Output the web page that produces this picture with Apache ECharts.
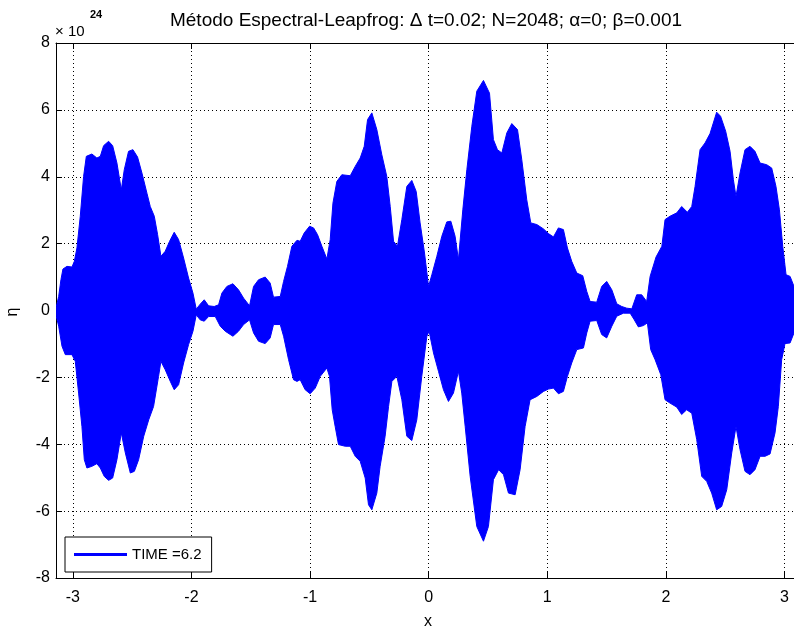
<!DOCTYPE html>
<html>
<head>
<meta charset="utf-8">
<script src="https://cdn.jsdelivr.net/npm/echarts@6/dist/echarts.min.js"></script>
<style>html,body{margin:0;padding:0;background:#fff}#c{width:794px;height:632px}</style>
</head>
<body>
<div id="c"></div>
<script>
// Envelope of eta (units of 1e24), upper edge
const upperX = [-3.139,-3.119,-3.100,-3.083,-3.049,-3.007,-2.987,-2.965,-2.937,-2.909,-2.886,-2.839,-2.797,-2.768,-2.740,-2.698,-2.664,-2.628,-2.591,-2.566,-2.530,-2.493,-2.454,-2.417,-2.375,-2.347,-2.313,-2.285,-2.257,-2.221,-2.184,-2.145,-2.108,-2.066,-2.024,-1.987,-1.959,-1.926,-1.892,-1.855,-1.808,-1.771,-1.743,-1.701,-1.650,-1.603,-1.560,-1.510,-1.476,-1.434,-1.378,-1.336,-1.308,-1.251,-1.223,-1.190,-1.153,-1.110,-1.083,-1.049,-1.004,-0.970,-0.937,-0.900,-0.858,-0.830,-0.807,-0.774,-0.732,-0.661,-0.619,-0.577,-0.543,-0.515,-0.479,-0.437,-0.395,-0.353,-0.324,-0.296,-0.263,-0.226,-0.184,-0.142,-0.105,-0.072,-0.035,-0.001,0.027,0.069,0.111,0.153,0.187,0.223,0.251,0.288,0.322,0.364,0.406,0.462,0.513,0.546,0.580,0.617,0.659,0.701,0.749,0.785,0.827,0.861,0.912,0.968,1.010,1.052,1.094,1.136,1.170,1.206,1.249,1.299,1.333,1.361,1.417,1.459,1.501,1.544,1.586,1.628,1.670,1.713,1.754,1.796,1.838,1.867,1.917,1.966,1.993,2.035,2.092,2.133,2.181,2.218,2.246,2.288,2.330,2.372,2.428,2.461,2.504,2.541,2.569,2.591,2.625,2.667,2.709,2.751,2.794,2.850,2.892,2.928,2.957,2.985,3.013,3.047,3.080];
const upperY = [0.12,0.42,0.92,1.24,1.32,1.30,1.47,1.87,2.82,4.01,4.61,4.68,4.56,4.61,4.93,5.06,4.93,4.41,3.61,4.21,4.76,4.81,4.59,4.11,3.51,3.11,2.82,2.27,1.62,1.77,2.07,2.34,2.12,1.57,0.97,0.52,0.04,0.19,0.32,0.14,0.12,0.17,0.52,0.72,0.80,0.62,0.37,0.14,0.72,0.92,1.00,0.82,0.40,0.42,0.87,1.32,1.92,2.10,2.07,2.32,2.52,2.47,2.27,1.92,1.54,2.12,3.21,3.86,4.06,4.03,4.31,4.56,4.91,5.71,5.91,5.41,4.66,4.01,3.11,2.07,1.92,2.72,3.71,3.89,3.56,2.62,1.72,0.72,1.07,1.62,2.22,2.65,2.67,2.22,1.52,3.01,4.21,5.51,6.56,6.88,6.50,5.11,4.81,4.71,5.31,5.59,5.41,4.51,3.31,2.62,2.57,2.44,2.30,2.20,2.47,2.42,1.87,1.47,1.12,1.04,0.57,0.27,0.25,0.72,0.87,0.62,0.20,0.12,0.07,0.05,0.47,0.47,0.27,1.02,1.60,1.92,2.72,2.82,2.92,3.11,2.94,3.11,3.71,4.81,5.01,5.29,5.93,5.81,5.36,4.76,3.91,3.41,4.11,4.81,4.91,4.76,4.41,4.36,4.26,3.71,3.01,1.92,1.07,1.02,0.72];
// lower edge
const lowerX = [-3.139,-3.119,-3.091,-3.063,-3.007,-2.979,-2.951,-2.923,-2.903,-2.881,-2.839,-2.797,-2.768,-2.735,-2.698,-2.664,-2.628,-2.591,-2.557,-2.515,-2.481,-2.445,-2.402,-2.360,-2.319,-2.277,-2.257,-2.221,-2.178,-2.145,-2.108,-2.066,-2.024,-1.987,-1.959,-1.926,-1.892,-1.855,-1.799,-1.757,-1.715,-1.650,-1.603,-1.560,-1.510,-1.476,-1.434,-1.378,-1.336,-1.308,-1.251,-1.223,-1.181,-1.139,-1.110,-1.083,-1.041,-0.999,-0.956,-0.914,-0.858,-0.836,-0.813,-0.788,-0.760,-0.703,-0.661,-0.619,-0.577,-0.535,-0.507,-0.479,-0.437,-0.409,-0.367,-0.338,-0.310,-0.268,-0.226,-0.184,-0.142,-0.100,-0.058,-0.015,0.004,0.041,0.083,0.125,0.167,0.209,0.251,0.279,0.308,0.350,0.406,0.462,0.504,0.546,0.590,0.631,0.673,0.729,0.771,0.813,0.855,0.912,0.968,1.010,1.052,1.094,1.136,1.170,1.206,1.249,1.305,1.333,1.361,1.417,1.459,1.501,1.544,1.586,1.642,1.699,1.732,1.768,1.811,1.844,1.872,1.909,1.957,1.993,2.035,2.092,2.133,2.175,2.218,2.260,2.302,2.344,2.386,2.428,2.470,2.513,2.555,2.591,2.625,2.667,2.709,2.751,2.794,2.836,2.878,2.920,2.948,2.976,3.004,3.047,3.080];
const lowerY = [-0.18,-0.47,-1.07,-1.32,-1.32,-1.52,-2.47,-3.47,-4.46,-4.71,-4.66,-4.58,-4.71,-4.96,-5.08,-5.01,-4.46,-3.66,-4.26,-4.86,-4.81,-4.46,-3.76,-3.27,-2.87,-1.97,-1.52,-1.77,-2.12,-2.37,-2.22,-1.57,-1.02,-0.62,-0.13,-0.28,-0.32,-0.18,-0.18,-0.47,-0.62,-0.77,-0.62,-0.42,-0.28,-0.67,-0.92,-0.99,-0.82,-0.42,-0.42,-0.77,-1.47,-2.07,-2.12,-2.07,-2.37,-2.49,-2.32,-1.97,-1.72,-1.97,-2.97,-3.47,-4.01,-4.06,-4.06,-4.36,-4.51,-5.01,-5.81,-5.96,-5.46,-4.66,-3.76,-2.87,-2.12,-1.97,-2.67,-3.76,-3.89,-3.27,-1.97,-0.77,-0.62,-1.27,-1.82,-2.37,-2.72,-2.47,-1.82,-2.47,-3.47,-4.96,-6.46,-6.90,-6.46,-5.06,-4.76,-4.91,-5.46,-5.51,-4.76,-3.47,-2.67,-2.57,-2.42,-2.35,-2.32,-2.49,-2.42,-1.97,-1.57,-1.17,-1.12,-0.67,-0.32,-0.30,-0.72,-0.82,-0.47,-0.17,-0.08,-0.08,-0.27,-0.49,-0.45,-0.37,-1.17,-1.47,-1.92,-2.67,-2.77,-2.89,-3.11,-2.97,-3.07,-3.86,-4.96,-5.11,-5.46,-5.96,-5.86,-5.36,-4.26,-3.47,-4.16,-4.81,-4.91,-4.76,-4.36,-4.36,-4.29,-3.66,-2.87,-1.47,-0.99,-0.97,-0.67];

const xTicks = [-3,-2,-1,0,1,2,3];
const xRange = [-Math.PI, 3.08];   // visible part of [-pi, pi] (the figure is cut at the right)
const yTicks = [-8,-6,-4,-2,0,2,4,6,8];
const seriesName = 'TIME =6.2';
const titleText = 'Método Espectral-Leapfrog: \u0394 t=0.02; N=2048; \u03b1=0; \u03b2=0.001';
const BLUE = '#0000ff';
const FONT = '"Liberation Sans", Arial, sans-serif';

const chart = echarts.init(document.getElementById('c'), null, {renderer: 'canvas'});

const upperPts = upperX.map((x, i) => [x, upperY[i]]);
const lowerPts = lowerX.map((x, i) => [x, lowerY[i]]);

const gridLine = {show: true, lineStyle: {color: '#000', type: [1, 3], width: 1}};
const xBase = {
  type: 'value', min: xRange[0], max: xRange[1],
  axisLine: {show: true, onZero: false, lineStyle: {color: '#000', width: 1}},
  axisTick: {show: true, inside: true, length: 6, customValues: xTicks, lineStyle: {color: '#000'}},
  axisLabel: {show: true, customValues: xTicks, color: '#000', fontFamily: FONT, fontSize: 16, margin: 12},
  splitLine: gridLine
};

chart.setOption({
  animation: false,
  backgroundColor: '#fff',
  grid: {left: 56, right: 0, top: 43, bottom: 54, containLabel: false},
  xAxis: [
    Object.assign({}, xBase, {position: 'bottom'}),
    Object.assign({}, xBase, {position: 'top', axisLabel: {show: false, customValues: xTicks}, splitLine: {show: false}})
  ],
  yAxis: [
    {type: 'value', min: yTicks[0], max: yTicks[yTicks.length - 1], interval: 2, position: 'left',
     axisLine: {show: true, onZero: false, lineStyle: {color: '#000'}},
     axisTick: {show: true, inside: true, length: 6, lineStyle: {color: '#000'}},
     axisLabel: {color: '#000', fontFamily: FONT, fontSize: 16, margin: 6},
     splitLine: gridLine}
  ],
  legend: {
    left: 65, top: 537, orient: 'vertical',
    backgroundColor: '#fff', borderColor: '#000', borderWidth: 1, borderRadius: 0,
    padding: [10, 10, 10, 9], itemWidth: 53, itemHeight: 3,
    data: [{name: seriesName, icon: 'rect'}],
    textStyle: {color: '#000', fontFamily: FONT, fontSize: 15}
  },
  series: [{
    name: seriesName,
    type: 'custom',
    coordinateSystem: 'cartesian2d',
    itemStyle: {color: BLUE},
    data: upperPts,
    encode: {x: 0, y: 1},
    clip: true,
    renderItem: function (params, api) {
      if (params.dataIndex !== 0) return null;
      const pts = [];
      for (let i = 0; i < upperPts.length; i++) pts.push(api.coord(upperPts[i]));
      for (let i = lowerPts.length - 1; i >= 0; i--) pts.push(api.coord(lowerPts[i]));
      return {
        type: 'polygon',
        shape: {points: pts},
        style: {fill: BLUE, stroke: BLUE, lineWidth: 1}
      };
    }
  }],
  graphic: [
    {type: 'text', x: 426, y: 21, style: {text: titleText, font: '19px ' + FONT, fill: '#000', textAlign: 'center', textVerticalAlign: 'middle'}},
    {type: 'text', x: 55, y: 32, style: {text: '\u00d7 10', font: '15px ' + FONT, fill: '#000', textAlign: 'left', textVerticalAlign: 'middle'}},
    {type: 'text', x: 90, y: 15, style: {text: '24', font: 'bold 11px ' + FONT, fill: '#000', textAlign: 'left', textVerticalAlign: 'middle'}},
    {type: 'text', x: 428, y: 622, style: {text: 'x', font: '16px ' + FONT, fill: '#000', textAlign: 'center', textVerticalAlign: 'middle'}},
    {type: 'text', x: 13, y: 312, rotation: Math.PI / 2, style: {text: '\u03b7', font: '16px ' + FONT, fill: '#000', textAlign: 'center', textVerticalAlign: 'middle'}}
  ]
});
</script>
</body>
</html>
